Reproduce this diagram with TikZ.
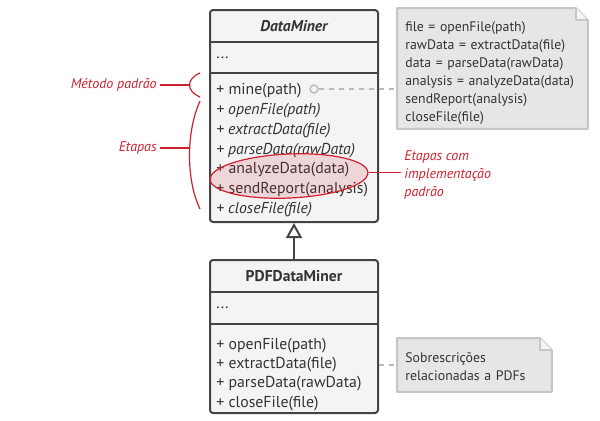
\documentclass[tikz,border=0pt]{standalone}
\usepackage{fontspec}
\setmainfont{PT Sans}
\usepackage{xcolor}
\usetikzlibrary{arrows.meta,positioning,shapes.geometric,backgrounds}
\definecolor{umlline}{HTML}{444444}
\definecolor{umlfill}{HTML}{F4F4F4}
\definecolor{notefill}{HTML}{E6E6E6}
\definecolor{noteline}{HTML}{C6C6C6}
\definecolor{hint}{HTML}{D0202E}
\definecolor{ink}{HTML}{333333}
\newcommand{\dogear}[1]{%
  \draw[noteedge, fill=notefill] (#1.north west) -- ([xshift=-6pt]#1.north east)
    -- ([yshift=-6pt]#1.north east) -- (#1.south east) -- (#1.south west) -- cycle;
  \draw[noteedge, fill=white!60!notefill] ([xshift=-6pt]#1.north east)
    -- ([xshift=-6pt,yshift=-6pt]#1.north east) -- ([yshift=-6pt]#1.north east);}

\begin{document}
\begin{tikzpicture}[
  x=0.5pt, y=-0.5pt,
  cls/.style={draw=umlline, line width=1pt, fill=umlfill, rounded corners=1.5pt,
              minimum width=84pt, inner sep=0pt},
  sep/.style={draw=umlline, line width=1pt},
  title/.style={font=\fontsize{7.8}{9.8}\selectfont\bfseries, text=ink},
  members/.style={anchor=north west, align=left, inner sep=0pt,
                  font=\fontsize{7.9}{9.9}\selectfont, text=ink},
  memo/.style={anchor=north west, align=left, inner xsep=4pt, inner ysep=0pt,
               font=\fontsize{6.9}{9}\selectfont, text=ink},
  noteedge/.style={draw=noteline, line width=1pt, line join=round},
  hintlbl/.style={text=hint, font=\fontsize{7}{9}\selectfont\itshape, inner sep=1.5pt},
  hintln/.style={draw=hint, line width=0.6pt},
  link/.style={draw=gray!55, line width=0.7pt, dash pattern=on 2.5pt off 2.5pt},
  inherit/.style={-{Triangle[open, length=7.5pt, width=8pt]}, draw=umlline, line width=1pt}
]
\useasboundingbox (0,0) rectangle (600,420);

% base class
\node[cls, minimum height=106pt] (dm) at (294,116) {};
\draw[sep] (dm.west |- 0,42) -- (dm.east |- 0,42);
\draw[sep] (dm.west |- 0,73) -- (dm.east |- 0,73);
\node[title, font=\fontsize{7.8}{9.8}\selectfont\bfseries\itshape] (dmname) at (294,26) {DataMiner};
\node[members, anchor=west] (dmattr) at (216,58) {...};
\node[members] (dmops) at (216,83) {+ mine(path)\\
  \textit{+ openFile(path)}\\
  \textit{+ extractData(file)}\\
  \textit{+ parseData(rawData)}\\
  + analyzeData(data)\\
  + sendReport(analysis)\\
  \textit{+ closeFile(file)}};

% subclass
\node[cls, minimum height=76.5pt] (pdf) at (294,336.5) {};
\draw[sep] (pdf.west |- 0,292) -- (pdf.east |- 0,292);
\draw[sep] (pdf.west |- 0,324) -- (pdf.east |- 0,324);
\node[title] (pdfname) at (294,276) {PDFDataMiner};
\node[members, anchor=west] (pdfattr) at (216,308) {...};
\node[members, font=\fontsize{7.9}{9.65}\selectfont] (pdfops) at (216,337.5) {+ openFile(path)\\
  + extractData(file)\\
  + parseData(rawData)\\
  + closeFile(file)};
\draw[inherit] (pdf.north) -- (dm.south);

% notes
\node[memo, minimum width=95pt, minimum height=60pt, text width=87pt, text height=10pt] (tmplnote) at (397,8) {%
  file = openFile(path)\\
  rawData = extractData(file)\\
  data = parseData(rawData)\\
  analysis = analyzeData(data)\\
  sendReport(analysis)\\
  closeFile(file)};
\node[memo, minimum width=77pt, minimum height=26.5pt, text width=69pt, text height=7pt] (ovrnote) at (397,338) {%
  Sobrescrições\\
  relacionadas a PDFs};
\begin{scope}[on background layer]
  \dogear{tmplnote}
  \dogear{ovrnote}
\end{scope}
\node[circle, draw=gray!55, line width=0.7pt, minimum size=4pt, inner sep=0pt] (mineport) at (314,89) {};
\draw[link] (mineport) -- (mineport -| tmplnote.west);
\draw[link] (ovrnote.west -| pdf.east) -- (ovrnote.west);

% annotations
\node[ellipse, draw=hint, line width=0.6pt, fill=hint, fill opacity=0.14, draw opacity=1,
      minimum width=79pt, minimum height=22pt, inner sep=0pt, rotate=2.5] (impl) at (289,176) {};
\node[hintlbl, anchor=west, align=left] (impllbl) at (401,175) {Etapas com\\implementação\\padrão};
\draw[hintln] (impl.east) -- (impl.east -| impllbl.west);

\node[hintlbl, anchor=east] (mtdlbl) at (160,85) {Método padrão};
\coordinate (mtdarc) at (189.5,85);
\draw[hintln] (200,73) .. controls (186,79) and (186,91) .. (200,97);
\draw[hintln] (mtdlbl.east) -- (mtdarc);

\node[hintlbl, anchor=east] (steplbl) at (160,148) {Etapas};
\coordinate (steparc) at (190,148);
\draw[hintln] (200,101) .. controls (186,132) and (186,180) .. (200,209);
\draw[hintln] (steplbl.east) -- (steparc);
\end{tikzpicture}
\end{document}
